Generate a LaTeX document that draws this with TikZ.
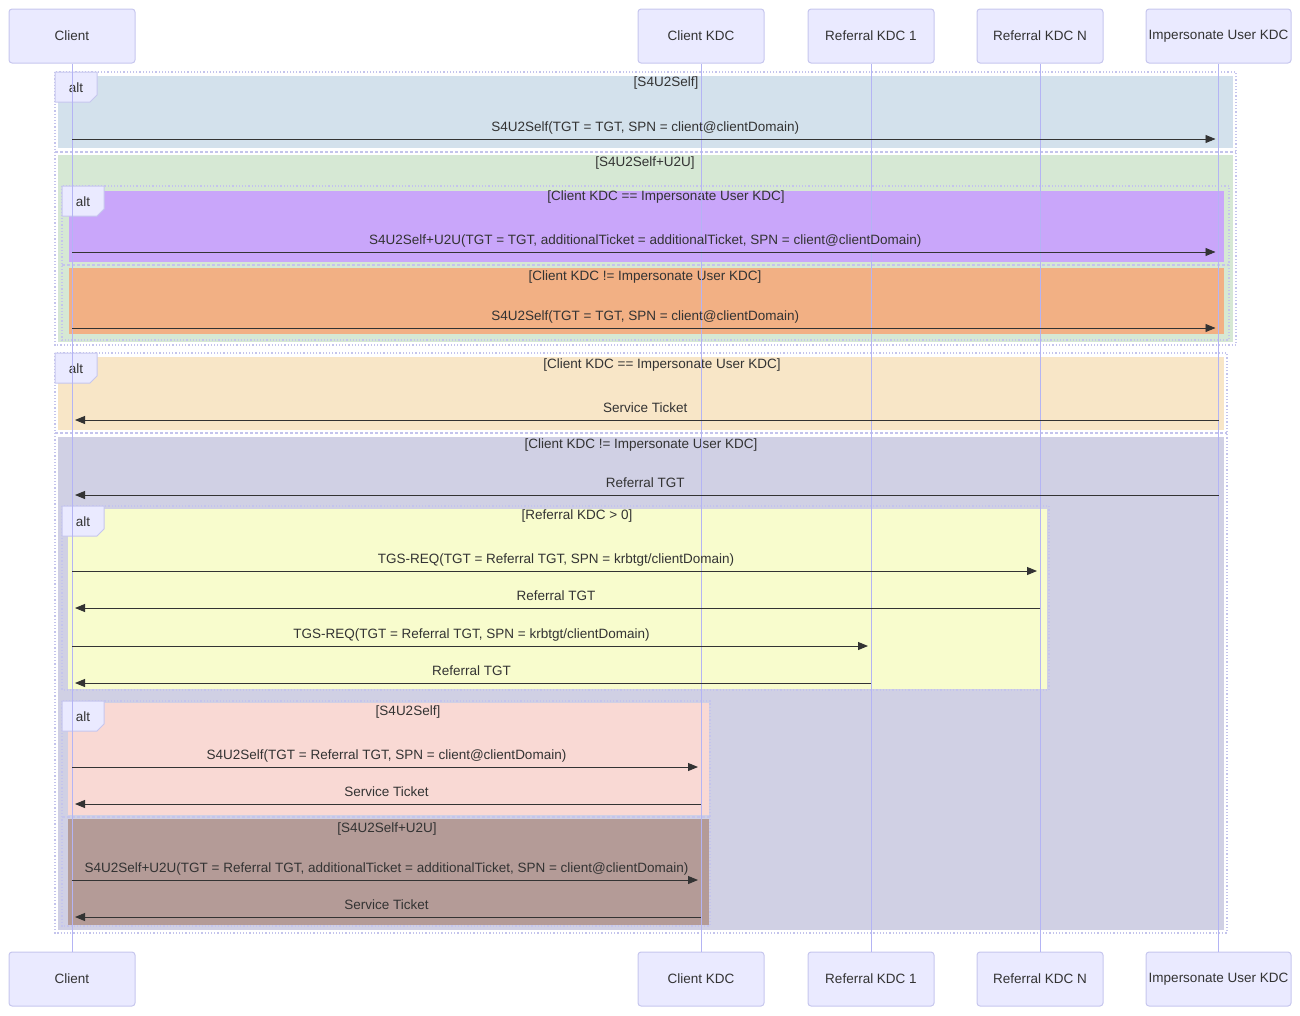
\documentclass[tikz,border=0pt]{standalone}
\usepackage{fontspec}
\setmainfont{Liberation Sans}
\usetikzlibrary{arrows.meta}

\definecolor{ink}{HTML}{333333}
\definecolor{actorfill}{HTML}{EAEAFF}
\definecolor{actorline}{HTML}{C6C6EE}
\definecolor{lifeline}{HTML}{B4B4F4}
\definecolor{frameline}{HTML}{C4C4EC}
\definecolor{selfblue}{HTML}{D3E1EC}
\definecolor{u2ugreen}{HTML}{D6E8D4}
\definecolor{samepurple}{HTML}{C9A6FA}
\definecolor{diffor}{HTML}{F2B084}
\definecolor{samecream}{HTML}{F8E6C7}
\definecolor{difflav}{HTML}{D0D0E4}
\definecolor{refyellow}{HTML}{F8FCCD}
\definecolor{selfpink}{HTML}{F9D9D4}
\definecolor{u2ubrown}{HTML}{B49B97}

\begin{document}
\begin{tikzpicture}[
  x = 1pt, y = -1pt,
  actor/.style = {draw=actorline, fill=actorfill, line width=1pt, rounded corners=3pt,
                  minimum height=54pt, inner sep=0pt, text=ink,
                  font=\fontsize{13.5}{16}\selectfont},
  life/.style  = {draw=lifeline, line width=1pt},
  msg/.style   = {draw=ink, line width=0.9pt, shorten >=3pt,
                  -{Triangle[length=10pt, width=8pt]}},
  says/.style  = {text=ink, anchor=base, yshift=8pt, inner sep=0pt,
                  font=\fontsize{13.5}{16}\selectfont},
  cond/.style  = {text=ink, inner sep=0pt, font=\fontsize{13.5}{16}\selectfont},
  frame/.style = {draw=frameline, line width=1.2pt, dotted},
  split/.style = {draw=frameline, line width=1.2pt, dash pattern=on 3pt off 2pt},
  tag/.style   = {draw=actorline, fill=actorfill, line width=1pt},
]

\useasboundingbox (0,0) rectangle (1300,1015);

% block backgrounds
\foreach \c/\a/\b in {%
    selfblue/{58,76}/{1233,148},
    u2ugreen/{58,155}/{1233,342},
    samepurple/{69,191}/{1224,262},
    diffor/{69,268}/{1224,334},
    samecream/{58,357}/{1224,430},
    difflav/{58,437}/{1224,930},
    refyellow/{68,509}/{1047,689},
    selfpink/{68,703}/{709,815},
    u2ubrown/{68,819}/{709,925}%
  }{%
    \fill[\c] (\a) rectangle (\b);
  }

\foreach \a/\b in {{55,72}/{1236,345}, {62,186}/{1229,340}, {55,353}/{1227,933},
                   {62,506}/{1049,690}, {62,701}/{710,926}}{%
  \draw[frame] (\a) rectangle (\b);
}

\draw[split] (55,152) -- (1236,152);
\draw[split] (62,265) -- (1229,265);
\draw[split] (55,433) -- (1227,433);
\draw[split] (62,817) -- (710,817);

\foreach \x/\y in {55/72, 62/186, 55/353, 62/506, 62/701}{%
  \draw[tag] (\x,\y) -- ++(42,0) -- ++(0,23) -- ++(-7,7) -- ++(-35,0) -- cycle;
  \node[cond] at (\x+21,\y+16) {alt};
}

\node[cond] at (666,83)  {[S4U2Self]};
\node[cond] at (645,163) {[S4U2Self+U2U]};
\node[cond] at (666,197) {[Client KDC == Impersonate User KDC]};
\node[cond] at (645,277) {[Client KDC != Impersonate User KDC]};
\node[cond] at (662,365) {[Client KDC == Impersonate User KDC]};
\node[cond] at (641,445) {[Client KDC != Impersonate User KDC]};
\node[cond] at (577,516) {[Referral KDC > 0]};
\node[cond] at (408,712) {[S4U2Self]};
\node[cond] at (387,829) {[S4U2Self+U2U]};

% participants, top and bottom
\foreach \n/\x/\w/\t in {%
    cl/72/126/Client,
    ck/701/126/Client KDC,
    r1/871/126/Referral KDC 1,
    rn/1040/126/Referral KDC N,
    iu/1218.5/145/Impersonate User KDC%
  }{%
    \node[actor, minimum width=\w] (\n-top) at (\x,36)  {\t};
    \node[actor, minimum width=\w] (\n-bot) at (\x,979) {\t};
    \draw[life] (\n-top) -- (\n-bot);
  }

\draw[msg] (cl-top |- 0,139) -- (iu-top |- 0,139)
  node[says, midway] {S4U2Self(TGT = TGT, SPN = client@clientDomain)};
\draw[msg] (cl-top |- 0,252) -- (iu-top |- 0,252)
  node[says, midway] {S4U2Self+U2U(TGT = TGT, additionalTicket = additionalTicket, SPN = client@clientDomain)};
\draw[msg] (cl-top |- 0,328) -- (iu-top |- 0,328)
  node[says, midway] {S4U2Self(TGT = TGT, SPN = client@clientDomain)};
\draw[msg] (iu-top |- 0,420) -- (cl-top |- 0,420)
  node[says, midway] {Service Ticket};
\draw[msg] (iu-top |- 0,495) -- (cl-top |- 0,495)
  node[says, midway] {Referral TGT};
\draw[msg] (cl-top |- 0,571) -- (rn-top |- 0,571)
  node[says, midway] {TGS-REQ(TGT = Referral TGT, SPN = krbtgt/clientDomain)};
\draw[msg] (rn-top |- 0,608) -- (cl-top |- 0,608)
  node[says, midway] {Referral TGT};
\draw[msg] (cl-top |- 0,646) -- (r1-top |- 0,646)
  node[says, midway] {TGS-REQ(TGT = Referral TGT, SPN = krbtgt/clientDomain)};
\draw[msg] (r1-top |- 0,683) -- (cl-top |- 0,683)
  node[says, midway] {Referral TGT};
\draw[msg] (cl-top |- 0,767) -- (ck-top |- 0,767)
  node[says, midway] {S4U2Self(TGT = Referral TGT, SPN = client@clientDomain)};
\draw[msg] (ck-top |- 0,804) -- (cl-top |- 0,804)
  node[says, midway] {Service Ticket};
\draw[msg] (cl-top |- 0,880) -- (ck-top |- 0,880)
  node[says, midway] {S4U2Self+U2U(TGT = Referral TGT, additionalTicket = additionalTicket, SPN = client@clientDomain)};
\draw[msg] (ck-top |- 0,917) -- (cl-top |- 0,917)
  node[says, midway] {Service Ticket};

\end{tikzpicture}
\end{document}
